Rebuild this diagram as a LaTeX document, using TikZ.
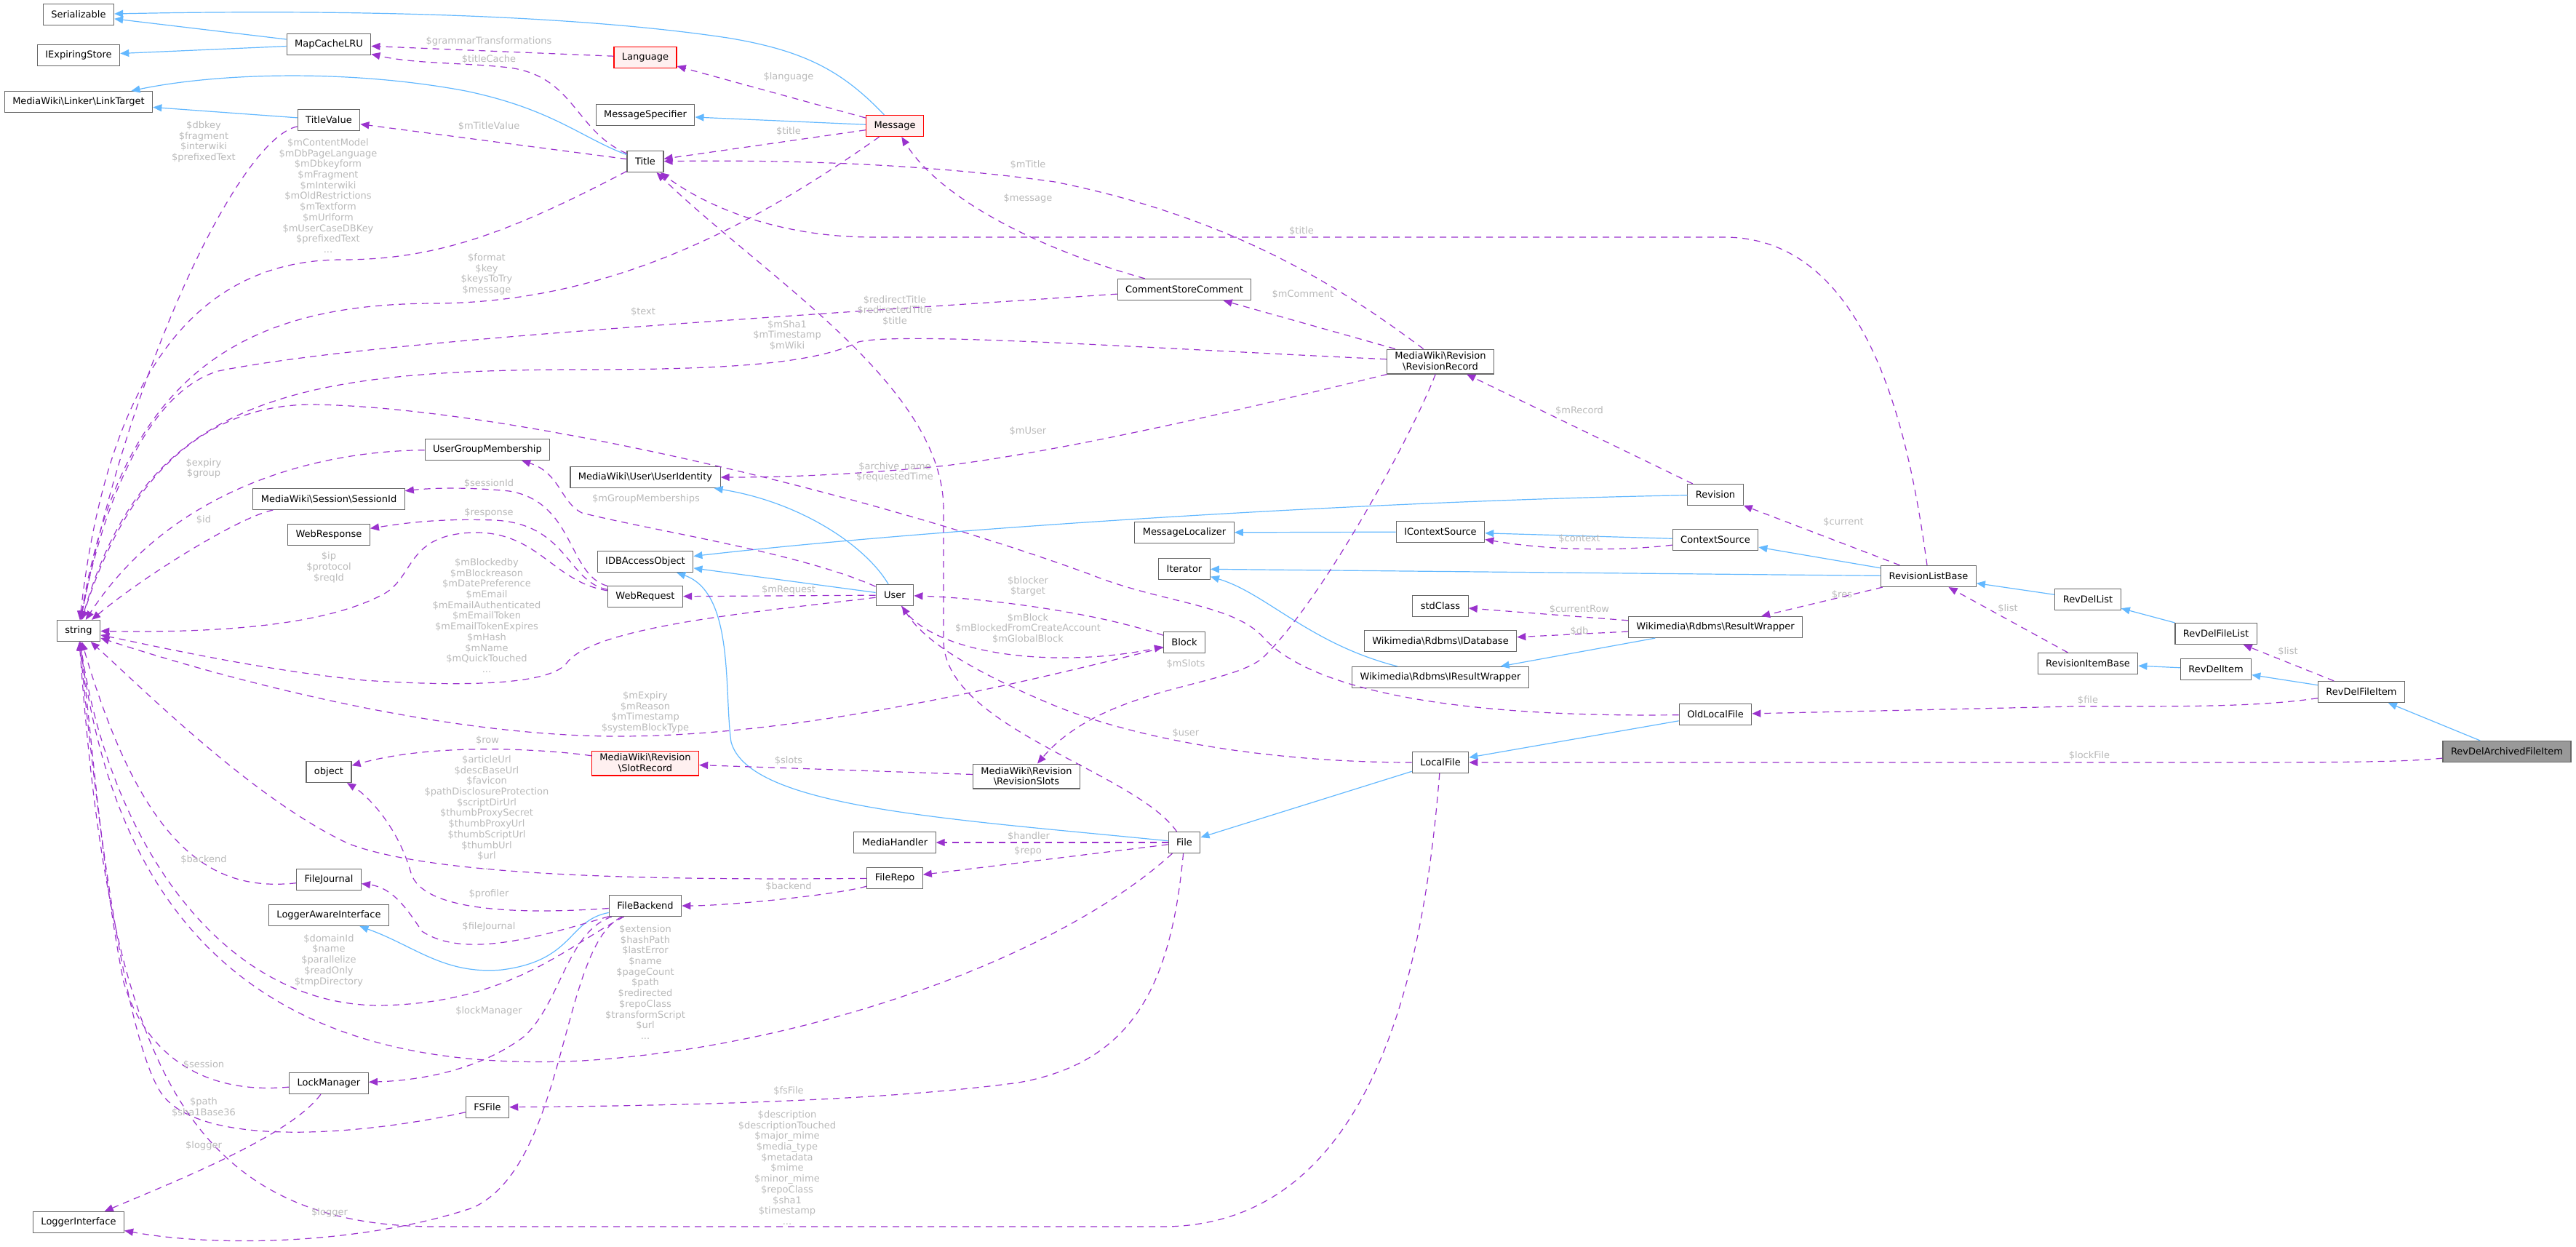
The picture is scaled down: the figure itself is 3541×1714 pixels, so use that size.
\documentclass[tikz,border=0pt]{standalone}
\usepackage{fontspec}
\setmainfont{DejaVu Sans}
\usetikzlibrary{arrows.meta}
\definecolor{inhblue}{RGB}{99,184,255}
\definecolor{usepurple}{RGB}{154,50,205}
\definecolor{lblgrey}{RGB}{185,185,185}
\definecolor{boxgrey}{RGB}{102,102,102}

\begin{document}
\begin{tikzpicture}[x=0.5pt,y=0.5pt,yscale=-1,xscale=1,
  cls/.style={draw=boxgrey,fill=white,line width=0.6pt,inner xsep=5.5pt,inner ysep=2pt,minimum height=14.5pt,align=center,font=\fontsize{6.5}{7.35}\selectfont},
  clsred/.style={cls,draw=red,fill={rgb,255:red,255;green,240;blue,240}},
  clshl/.style={cls,fill={rgb,255:red,153;green,153;blue,153}},
  inh/.style={draw=inhblue,line width=0.6pt,-{Triangle[length=6pt,width=5pt]}},
  usage/.style={draw=usepurple,line width=0.6pt,dash pattern=on 4.5pt off 3.5pt,-{Triangle[length=6pt,width=5pt]}},
  lbl/.style={text=lblgrey,inner sep=0pt,align=center,font=\fontsize{6.5}{7.35}\selectfont}]

\useasboundingbox (0,0) rectangle (3541,1714);

\node[cls] (nSerializable) at (108,20) {Serializable};
\node[cls] (nExpiring) at (108,76) {IExpiringStore};
\node[cls] (nLinkTarget) at (108,140) {MediaWiki\textbackslash Linker\textbackslash LinkTarget};
\node[cls] (nString) at (108,867) {string};
\node[cls] (nLoggerIf) at (108,1680) {LoggerInterface};
\node[cls] (nMapCache) at (452,61) {MapCacheLRU};
\node[cls] (nTitleValue) at (452,165) {TitleValue};
\node[cls] (nSessionId) at (452,686) {MediaWiki\textbackslash Session\textbackslash SessionId};
\node[cls] (nWebResponse) at (452,735) {WebResponse};
\node[cls] (nObject) at (452,1061) {object};
\node[cls] (nFileJournal) at (452,1209) {FileJournal};
\node[cls] (nLoggerAware) at (452,1258) {LoggerAwareInterface};
\node[cls] (nLockManager) at (452,1489) {LockManager};
\node[cls] (nUGM) at (670,618) {UserGroupMembership};
\node[cls] (nFSFile) at (670,1522) {FSFile};
\node[clsred] (nLanguage) at (887,79) {Language};
\node[cls] (nMsgSpec) at (887,158) {MessageSpecifier};
\node[cls] (nTitle) at (887,222) {Title};
\node[cls] (nUserIdentity) at (887,656) {MediaWiki\textbackslash User\textbackslash UserIdentity};
\node[cls] (nIDBAccess) at (887,772) {IDBAccessObject};
\node[cls] (nWebRequest) at (887,820) {WebRequest};
\node[clsred] (nSlotRecord) at (887,1049) {MediaWiki\textbackslash Revision\\\textbackslash SlotRecord};
\node[cls] (nFileBackend) at (887,1245) {FileBackend};
\node[clsred] (nMessage) at (1230,173) {Message};
\node[cls] (nUser) at (1230,818) {User};
\node[cls] (nMediaHandler) at (1230,1158) {MediaHandler};
\node[cls] (nFileRepo) at (1230,1207) {FileRepo};
\node[cls] (nRevSlots) at (1411,1067) {MediaWiki\textbackslash Revision\\\textbackslash RevisionSlots};
\node[cls] (nComment) at (1628,398) {CommentStoreComment};
\node[cls] (nMsgLocalizer) at (1628,732) {MessageLocalizer};
\node[cls] (nIterator) at (1628,782) {Iterator};
\node[cls] (nBlock) at (1628,883) {Block};
\node[cls] (nFile) at (1628,1158) {File};
\node[cls] (nRevRecord) at (1980,497) {MediaWiki\textbackslash Revision\\\textbackslash RevisionRecord};
\node[cls] (nIContext) at (1980,731) {IContextSource};
\node[cls] (nStdClass) at (1980,833) {stdClass};
\node[cls] (nIDatabase) at (1980,881) {Wikimedia\textbackslash Rdbms\textbackslash IDatabase};
\node[cls] (nIResult) at (1980,931) {Wikimedia\textbackslash Rdbms\textbackslash IResultWrapper};
\node[cls] (nLocalFile) at (1980,1048) {LocalFile};
\node[cls] (nRevision) at (2358,680) {Revision};
\node[cls] (nContext) at (2358,742) {ContextSource};
\node[cls] (nResult) at (2358,862) {Wikimedia\textbackslash Rdbms\textbackslash ResultWrapper};
\node[cls] (nOldLocal) at (2358,982) {OldLocalFile};
\node[cls] (nRevListBase) at (2651,792) {RevisionListBase};
\node[cls] (nRevDelList) at (2870,824) {RevDelList};
\node[cls] (nRevItemBase) at (2870,912) {RevisionItemBase};
\node[cls] (nRevDelFileList) at (3046,871) {RevDelFileList};
\node[cls] (nRevDelItem) at (3046,920) {RevDelItem};
\node[cls] (nRevDelFileItem) at (3246,951) {RevDelFileItem};
\node[clshl] (nArchived) at (3446,1033) {RevDelArchivedFileItem};

\draw[inh] (nMapCache) -- (nSerializable);
\draw[inh] (nMapCache) -- (nExpiring);
\draw[inh] (nMessage) .. controls (1160,100) and (1110,70) .. (1000,52) .. controls (800,22) and (500,12) .. (nSerializable);
\draw[inh] (nTitle) .. controls (800,190) and (760,150) .. (640,125) .. controls (480,95) and (300,100) .. (nLinkTarget);
\draw[inh] (nTitleValue) -- (nLinkTarget);
\draw[inh] (nMessage) -- (nMsgSpec);
\draw[inh] (nUser) .. controls (1190,750) and (1100,690) .. (nUserIdentity);
\draw[inh] (nUser) -- (nIDBAccess);
\draw[inh] (nRevision) .. controls (1900,688) and (1300,725) .. (nIDBAccess);
\draw[inh] (nFile) .. controls (1300,1125) and (1030,1110) .. (1005,1020) .. controls (995,950) and (1010,815) .. (nIDBAccess);
\draw[inh] (nContext) -- (nIContext);
\draw[inh] (nIContext) -- (nMsgLocalizer);
\draw[inh] (nRevListBase) -- (nContext);
\draw[inh] (nRevListBase) -- (nIterator);
\draw[inh] (nIResult) .. controls (1800,885) and (1740,815) .. (nIterator);
\draw[inh] (nResult) -- (nIResult);
\draw[inh] (nOldLocal) -- (nLocalFile);
\draw[inh] (nLocalFile) -- (nFile);
\draw[inh] (nRevDelList) -- (nRevListBase);
\draw[inh] (nRevDelFileList) -- (nRevDelList);
\draw[inh] (nRevDelItem) -- (nRevItemBase);
\draw[inh] (nRevDelFileItem) -- (nRevDelItem);
\draw[inh] (nArchived) -- (nRevDelFileItem);
\draw[inh] (nFileBackend) .. controls (780,1265) and (790,1320) .. (690,1333) .. controls (610,1340) and (570,1300) .. (nLoggerAware);

\draw[usage] (nLanguage) -- (nMapCache);
\draw[usage] (nTitle) .. controls (790,180) and (790,105) .. (700,93) .. controls (640,86) and (570,88) .. (nMapCache);
\draw[usage] (nMessage) -- (nLanguage);
\draw[usage] (nTitle) -- (nTitleValue);
\draw[usage] (nMessage) -- (nTitle);
\draw[usage] (nRevRecord) .. controls (1850,400) and (1700,300) .. (1450,250) .. controls (1250,222) and (1050,220) .. (nTitle);
\draw[usage] (nRevListBase) .. controls (2625,600) and (2570,326) .. (2370,326) -- (1200,326) .. controls (1080,326) and (980,290) .. (nTitle);
\draw[usage] (nFile) .. controls (1560,1060) and (1297,1000) .. (1297,880) -- (1297,700) .. controls (1297,530) and (1050,380) .. (nTitle);
\draw[usage] (nComment) .. controls (1420,340) and (1290,270) .. (nMessage);
\draw[usage] (nRevRecord) -- (nComment);
\draw[usage] (nTitle) .. controls (700,320) and (600,357) .. (470,357) .. controls (280,357) and (150,500) .. (nString);
\draw[usage] (nMessage) .. controls (1050,300) and (850,415) .. (600,417) .. controls (350,417) and (170,500) .. (nString);
\draw[usage] (nTitleValue) .. controls (330,190) and (180,500) .. (nString);
\draw[usage] (nComment) .. controls (1000,440) and (500,470) .. (300,510) .. controls (200,540) and (140,700) .. (nString);
\draw[usage] (nRevRecord) .. controls (1600,480) and (1240,455) .. (1180,470) .. controls (1120,500) and (1000,508) .. (800,508) .. controls (400,508) and (200,550) .. (nString);
\draw[usage] (nRevRecord) .. controls (1800,540) and (1500,615) .. (1300,640) .. controls (1150,655) and (1050,656) .. (nUserIdentity);
\draw[usage] (nRevision) -- (nRevRecord);
\draw[usage] (nRevRecord) .. controls (1940,600) and (1820,820) .. (1740,900) .. controls (1700,945) and (1520,940) .. (nRevSlots);
\draw[usage] (nRevListBase) -- (nRevision);
\draw[usage] (nContext) .. controls (2250,755) and (2150,760) .. (nIContext);
\draw[usage] (nResult) -- (nStdClass);
\draw[usage] (nResult) -- (nIDatabase);
\draw[usage] (nRevListBase) -- (nResult);
\draw[usage] (nRevItemBase) -- (nRevListBase);
\draw[usage] (nRevDelFileItem) -- (nRevDelFileList);
\draw[usage] (nRevDelFileItem) .. controls (3100,972) and (3000,971) .. (2850,971) -- (nOldLocal);
\draw[usage] (nArchived) .. controls (3300,1048) and (3200,1048) .. (3000,1048) -- (nLocalFile);
\draw[usage] (nOldLocal) .. controls (2050,986) and (1820,960) .. (1740,880) .. controls (1700,830) and (1600,830) .. (1500,790) .. controls (1200,680) and (700,560) .. (430,556) .. controls (250,556) and (160,700) .. (nString);
\draw[usage] (nUGM) .. controls (420,620) and (230,680) .. (nString);
\draw[usage] (nSessionId) .. controls (330,710) and (200,790) .. (nString);
\draw[usage] (nWebRequest) .. controls (760,800) and (740,730) .. (650,732) .. controls (560,735) and (570,790) .. (530,815) .. controls (450,860) and (300,870) .. (nString);
\draw[usage] (nUser) .. controls (1050,840) and (820,860) .. (780,910) .. controls (760,940) and (650,945) .. (500,935) .. controls (350,920) and (200,885) .. (nString);
\draw[usage] (nUser) .. controls (1100,760) and (900,730) .. (800,705) .. controls (770,690) and (770,650) .. (nUGM);
\draw[usage] (nUser) -- (nWebRequest);
\draw[usage] (nWebRequest) .. controls (780,790) and (790,690) .. (700,675) .. controls (650,670) and (600,670) .. (nSessionId);
\draw[usage] (nWebRequest) .. controls (780,800) and (780,720) .. (680,715) .. controls (600,712) and (550,720) .. (nWebResponse);
\draw[usage] (nBlock) .. controls (1500,840) and (1350,822) .. (nUser);
\draw[usage] (nUser) .. controls (1280,900) and (1450,920) .. (nBlock);
\draw[usage] (nBlock) .. controls (1400,940) and (1100,1012) .. (850,1012) .. controls (600,1012) and (300,930) .. (nString);
\draw[usage] (nLocalFile) .. controls (1800,1048) and (1600,1030) .. (1450,970) .. controls (1330,920) and (1270,880) .. (nUser);
\draw[usage] (nSlotRecord) .. controls (750,1030) and (600,1020) .. (nObject);
\draw[usage] (nRevSlots) -- (nSlotRecord);
\draw[usage] (nFileRepo) .. controls (900,1210) and (600,1205) .. (480,1160) .. controls (350,1100) and (200,950) .. (nString);
\draw[usage] (nFileRepo) .. controls (1150,1230) and (1000,1245) .. (nFileBackend);
\draw[usage] (nFile) -- (nMediaHandler);
\draw[usage] (nFile) -- (nFileRepo);
\draw[usage] (nFileBackend) .. controls (700,1258) and (580,1250) .. (565,1200) .. controls (545,1130) and (500,1090) .. (nObject);
\draw[usage] (nFileBackend) .. controls (750,1285) and (640,1320) .. (580,1280) .. controls (560,1250) and (540,1220) .. (nFileJournal);
\draw[usage] (nFileJournal) .. controls (300,1225) and (200,1180) .. (nString);
\draw[usage] (nFileBackend) .. controls (780,1300) and (700,1380) .. (520,1382) .. controls (300,1380) and (150,1150) .. (nString);
\draw[usage] (nFile) .. controls (1450,1320) and (1100,1440) .. (800,1458) .. controls (450,1475) and (170,1350) .. (nString);
\draw[usage] (nFile) .. controls (1610,1350) and (1560,1460) .. (1400,1488) .. controls (1200,1515) and (900,1520) .. (nFSFile);
\draw[usage] (nFSFile) .. controls (500,1560) and (270,1580) .. (220,1500) .. controls (170,1420) and (130,1100) .. (nString);
\draw[usage] (nLockManager) .. controls (280,1505) and (200,1450) .. (170,1350) .. controls (140,1200) and (125,1000) .. (nString);
\draw[usage] (nLockManager) .. controls (400,1560) and (250,1620) .. (nLoggerIf);
\draw[usage] (nFileBackend) .. controls (780,1280) and (770,1380) .. (720,1425) .. controls (660,1470) and (580,1485) .. (nLockManager);
\draw[usage] (nFileBackend) .. controls (770,1300) and (780,1600) .. (650,1660) .. controls (500,1710) and (300,1715) .. (nLoggerIf);
\draw[usage] (nLocalFile) .. controls (1960,1300) and (1900,1684) .. (1600,1686) -- (600,1686) .. controls (250,1686) and (150,1450) .. (nString);

\node[lbl] (lGrammar) at (672,57) {\$grammarTransformations};
\node[lbl] (lTitleCache) at (672,82) {\$titleCache};
\node[lbl] (lLanguage) at (1084,106) {\$language};
\node[lbl] (lMTitleValue) at (672,174) {\$mTitleValue};
\node[lbl] (lMsgTitle) at (1084,181) {\$title};
\node[lbl] (lMTitle) at (1413,227) {\$mTitle};
\node[lbl] (lMessage) at (1413,273) {\$message};
\node[lbl] (lRlbTitle) at (1789,318) {\$title};
\node[lbl] (lTitleStr) at (451,269) {\$mContentModel\\\$mDbPageLanguage\\\$mDbkeyform\\\$mFragment\\\$mInterwiki\\\$mOldRestrictions\\\$mTextform\\\$mUrlform\\\$mUserCaseDBKey\\\$prefixedText\\...};
\node[lbl] (lMsgStr) at (669,377) {\$format\\\$key\\\$keysToTry\\\$message};
\node[lbl] (lTVStr) at (280,195) {\$dbkey\\\$fragment\\\$interwiki\\\$prefixedText};
\node[lbl] (lText) at (884,429) {\$text};
\node[lbl] (lRedirect) at (1230,427) {\$redirectTitle\\\$redirectedTitle\\\$title};
\node[lbl] (lRRStr) at (1082,461) {\$mSha1\\\$mTimestamp\\\$mWiki};
\node[lbl] (lMComment) at (1791,405) {\$mComment};
\node[lbl] (lMUser) at (1413,593) {\$mUser};
\node[lbl] (lMRecord) at (2171,565) {\$mRecord};
\node[lbl] (lArchive) at (1230,649) {\$archive\_name\\\$requestedTime};
\node[lbl] (lMSlots) at (1630,913) {\$mSlots};
\node[lbl] (lCurrent) at (2534,718) {\$current};
\node[lbl] (lContext) at (2171,741) {\$context};
\node[lbl] (lCurrentRow) at (2171,838) {\$currentRow};
\node[lbl] (lDb) at (2171,868) {\$db};
\node[lbl] (lRes) at (2532,818) {\$res};
\node[lbl] (lList) at (2760,837) {\$list};
\node[lbl] (lFileList) at (3145,896) {\$list};
\node[lbl] (lFile) at (2870,963) {\$file};
\node[lbl] (lLockFile) at (2872,1039) {\$lockFile};
\node[lbl] (lUGMStr) at (280,644) {\$expiry\\\$group};
\node[lbl] (lId) at (280,715) {\$id};
\node[lbl] (lIpStr) at (452,780) {\$ip\\\$protocol\\\$reqId};
\node[lbl] (lUserStr) at (669,846) {\$mBlockedby\\\$mBlockreason\\\$mDatePreference\\\$mEmail\\\$mEmailAuthenticated\\\$mEmailToken\\\$mEmailTokenExpires\\\$mHash\\\$mName\\\$mQuickTouched\\...};
\node[lbl] (lGroupM) at (888,686) {\$mGroupMemberships};
\node[lbl] (lMRequest) at (1084,811) {\$mRequest};
\node[lbl] (lSessionId) at (672,665) {\$sessionId};
\node[lbl] (lResponse) at (672,705) {\$response};
\node[lbl] (lBlocker) at (1413,806) {\$blocker\\\$target};
\node[lbl] (lMBlock) at (1413,864) {\$mBlock\\\$mBlockedFromCreateAccount\\\$mGlobalBlock};
\node[lbl] (lBlockStr) at (887,979) {\$mExpiry\\\$mReason\\\$mTimestamp\\\$systemBlockType};
\node[lbl] (lUser) at (1630,1008) {\$user};
\node[lbl] (lRow) at (670,1018) {\$row};
\node[lbl] (lSlots) at (1084,1046) {\$slots};
\node[lbl] (lRepoStr) at (669,1117) {\$articleUrl\\\$descBaseUrl\\\$favicon\\\$pathDisclosureProtection\\\$scriptDirUrl\\\$thumbProxySecret\\\$thumbProxyUrl\\\$thumbScriptUrl\\\$thumbUrl\\\$url\\...};
\node[lbl] (lBackend) at (1084,1218) {\$backend};
\node[lbl] (lHandler) at (1414,1150) {\$handler};
\node[lbl] (lRepo) at (1413,1170) {\$repo};
\node[lbl] (lProfiler) at (672,1229) {\$profiler};
\node[lbl] (lFileJournal) at (672,1274) {\$fileJournal};
\node[lbl] (lJBackend) at (280,1182) {\$backend};
\node[lbl] (lDomain) at (452,1320) {\$domainId\\\$name\\\$parallelize\\\$readOnly\\\$tmpDirectory};
\node[lbl] (lFileStr) at (887,1350) {\$extension\\\$hashPath\\\$lastError\\\$name\\\$pageCount\\\$path\\\$redirected\\\$repoClass\\\$transformScript\\\$url\\...};
\node[lbl] (lFsFile) at (1084,1499) {\$fsFile};
\node[lbl] (lPath) at (280,1522) {\$path\\\$sha1Base36};
\node[lbl] (lSession) at (280,1463) {\$session};
\node[lbl] (lLoggerA) at (280,1575) {\$logger};
\node[lbl] (lLockMgr) at (672,1390) {\$lockManager};
\node[lbl] (lLoggerB) at (453,1667) {\$logger};
\node[lbl] (lLocalStr) at (1082,1605) {\$description\\\$descriptionTouched\\\$major\_mime\\\$media\_type\\\$metadata\\\$mime\\\$minor\_mime\\\$repoClass\\\$sha1\\\$timestamp\\...};

\end{tikzpicture}
\end{document}
